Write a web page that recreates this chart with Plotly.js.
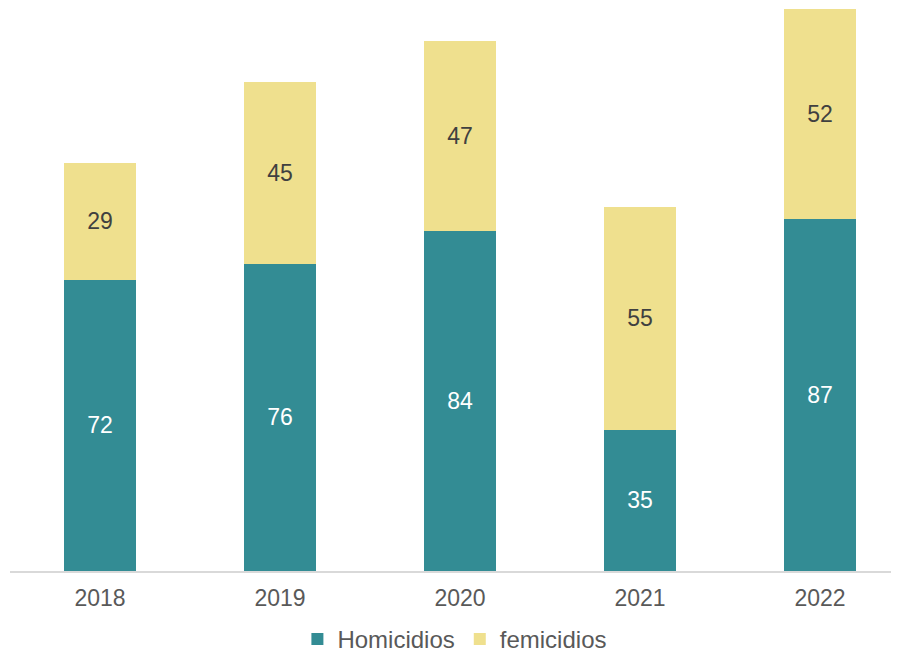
<!DOCTYPE html>
<html>
<head>
<meta charset="utf-8">
<script src="https://cdn.plot.ly/plotly-3.0.1.min.js"></script>
<style>html,body{margin:0;padding:0;background:#fff;}#chart{width:901px;height:653px;}</style>
</head>
<body>
<div id="chart"></div>
<script>
const years = ["2018", "2019", "2020", "2021", "2022"];
const homicidios = [72, 76, 84, 35, 87];
const femicidios = [29, 45, 47, 55, 52];
const seriesNames = ["Homicidios", "femicidios"];

const font = "Liberation Sans, Arial, Helvetica, sans-serif";
const data = [
  {
    type: "bar", name: seriesNames[0], x: years, y: homicidios,
    marker: {color: "#338C94"}, width: 0.4,
    text: homicidios.map(String), textposition: "inside", insidetextanchor: "middle",
    textangle: 0, textfont: {family: font, size: 23, color: "#ffffff"},
    hoverinfo: "none"
  },
  {
    type: "bar", name: seriesNames[1], x: years, y: femicidios,
    marker: {color: "#EFE08E"}, width: 0.4,
    text: femicidios.map(String), textposition: "inside", insidetextanchor: "middle",
    textangle: 0, textfont: {family: font, size: 23, color: "#404040"},
    hoverinfo: "none"
  }
];
const layout = {
  width: 901, height: 653,
  margin: {l: 10, r: 10, t: 5, b: 82, autoexpand: false},
  barmode: "stack",
  paper_bgcolor: "#ffffff", plot_bgcolor: "#ffffff",
  font: {family: font, size: 23, color: "#595959"},
  xaxis: {
    type: "category", range: [-0.5, 4.394], automargin: false,
    showline: true, linecolor: "#d9d9d9", linewidth: 2,
    ticks: "", showgrid: false, zeroline: false, ticklabelstandoff: 5,
    tickfont: {family: font, size: 23, color: "#595959"}
  },
  yaxis: {range: [0, 140], visible: false, showgrid: false, zeroline: false, automargin: false},
  showlegend: true,
  legend: {
    orientation: "h", x: 0.505, xanchor: "center", yref: "container", y: 0.021, yanchor: "middle",
    font: {family: font, size: 24, color: "#595959"},
    itemwidth: 30, traceorder: "normal"
  }
};
Plotly.newPlot("chart", data, layout, {staticPlot: true});
</script>
</body>
</html>
